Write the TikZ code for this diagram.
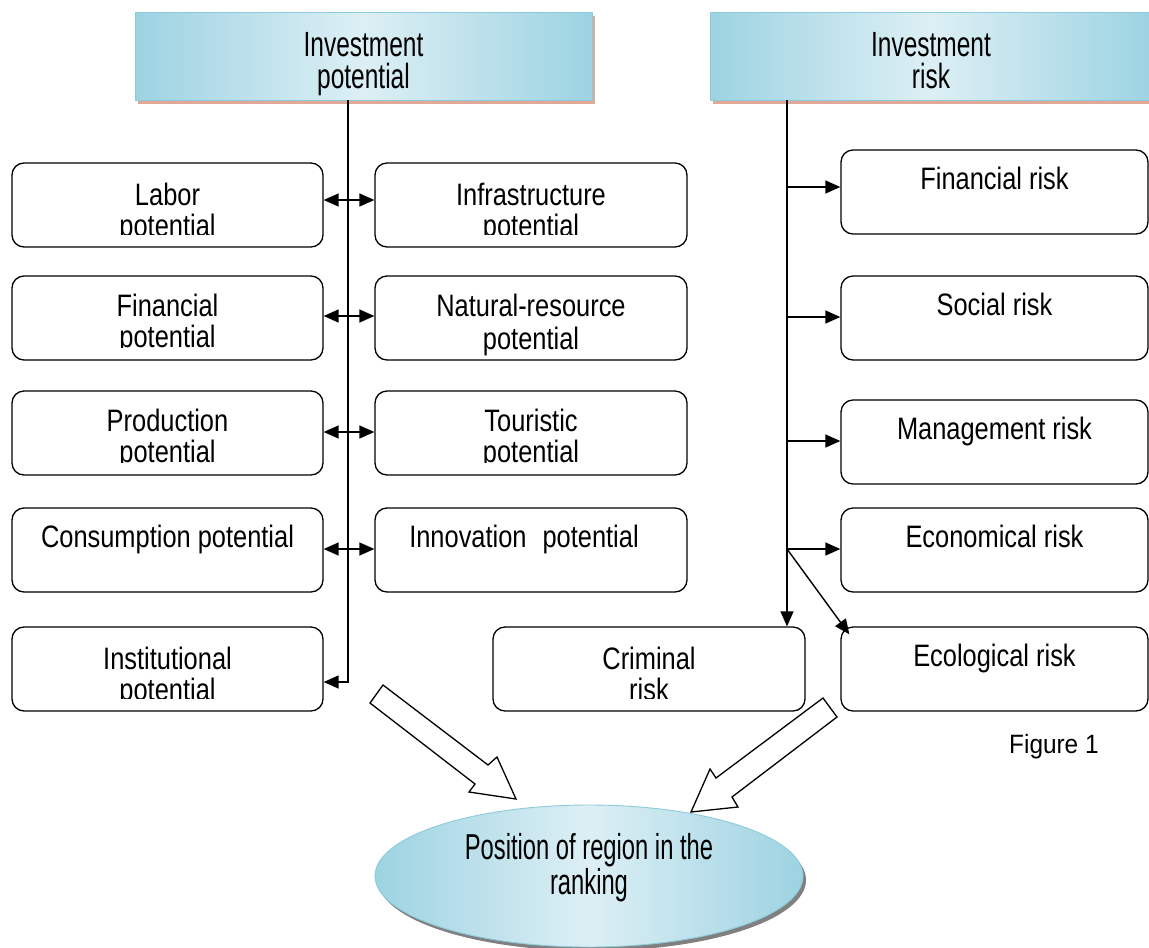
\documentclass[tikz,border=0pt]{standalone}
\usepackage{fontspec}
\setmainfont{Liberation Sans}
\newfontfamily\topfnt[FakeStretch=0.70]{Liberation Sans}
\newfontfamily\boxfnt[FakeStretch=0.82]{Liberation Sans}
\newfontfamily\ellfnt[FakeStretch=0.66]{Liberation Sans}
\newfontfamily\figfnt[FakeStretch=0.92]{Liberation Sans}
\usetikzlibrary{shapes.geometric,arrows.meta,backgrounds}
\definecolor{bdark}{HTML}{9DD3E2}
\definecolor{blight}{HTML}{DDEFF5}
\definecolor{salmon}{HTML}{E1A898}
\definecolor{bborder}{HTML}{8DCBDB}
\newcommand\cliptxt[4]{%
  \begin{scope}
    \clip (#1.north west) rectangle ([yshift=13pt]#1.south east);
    \node[btxt, anchor=base] (#2) at ([yshift=-#3pt]#1.north) {#4};
  \end{scope}}
\begin{document}
\begin{tikzpicture}[x=1pt,y=-1pt,
  topbox/.style={draw=bborder, line width=0.9pt, left color=bdark, right color=bdark, middle color=blight,
    minimum height=88pt, inner sep=0pt},
  rbox/.style={draw, line width=1.3pt, rounded corners=12pt, minimum height=84pt, inner sep=0pt, fill=white},
  btxt/.style={font=\boxfnt\fontsize{31}{31}\selectfont, align=center, inner sep=0pt},
  ttxt/.style={font=\topfnt\fontsize{35}{32}\selectfont, align=center, inner sep=0pt},
  conn/.style={line width=1.4pt, -{Triangle[length=15pt,width=13pt]}},
  dconn/.style={line width=1.4pt, {Triangle[length=15pt,width=13pt]}-{Triangle[length=15pt,width=13pt]}},
  harrow/.style={draw, line width=1.3pt, fill=white, line join=miter}]
\useasboundingbox (0,0) rectangle (1149,948);

% top boxes
\node[topbox, minimum width=457pt] (tl) at (363.5,56) {};
\node[topbox, minimum width=442pt] (tr) at (931,56) {};
\node[ttxt, anchor=base] (tlt) at ([yshift=-77pt]tl.north) {Investment\\potential};
\node[ttxt, anchor=base] (trt) at ([yshift=-77pt]tr.north) {Investment\\risk};

% left column
\node[rbox, minimum width=311pt] (lab) at (167.5,205) {};
\node[rbox, minimum width=311pt] (fip) at (167.5,318) {};
\node[rbox, minimum width=311pt] (pro) at (167.5,433) {};
\node[rbox, minimum width=311pt] (con) at (167.5,550) {};
\node[rbox, minimum width=311pt] (ins) at (167.5,669) {};
% middle column
\node[rbox, minimum width=312pt] (inf) at (531,205) {};
\node[rbox, minimum width=312pt] (nat) at (531,318) {};
\node[rbox, minimum width=312pt] (tou) at (531,433) {};
\node[rbox, minimum width=312pt] (inn) at (531,550) {};
\node[rbox, minimum width=312pt] (cri) at (649,669) {};
% right column
\node[rbox, minimum width=307pt] (fin) at (994.5,192) {};
\node[rbox, minimum width=307pt] (soc) at (994.5,318) {};
\node[rbox, minimum width=307pt] (man) at (994.5,442) {};
\node[rbox, minimum width=307pt] (eco) at (994.5,550) {};
\node[rbox, minimum width=307pt] (ecl) at (994.5,669) {};

% texts (anchor base = baseline of last line)
\cliptxt{lab}{labt}{74}{Labor\\potential}
\cliptxt{inf}{inft}{74}{Infrastructure\\potential}
\cliptxt{fip}{fipt}{72}{Financial\\potential}
\node[btxt, anchor=base] (natt) at ([yshift=-74pt]nat.north) {Natural-resource\\[2pt]potential};
\cliptxt{pro}{prot}{72}{Production\\potential}
\cliptxt{tou}{tout}{72}{Touristic\\potential}
\node[btxt, anchor=base] (cont) at ([yshift=-40pt]con.north) {Consumption potential};
\node[btxt, anchor=base] (innt) at ([xshift=-7pt,yshift=-40pt]inn.north) {Innovation\hspace{16pt}potential};
\cliptxt{ins}{inst}{74}{Institutional\\potential}
\cliptxt{cri}{crit}{74}{Criminal\\risk}
\node[btxt, anchor=base] (fint) at ([yshift=-40pt]fin.north) {Financial risk};
\node[btxt, anchor=base] (soct) at ([yshift=-40pt]soc.north) {Social risk};
\node[btxt, anchor=base] (mant) at ([yshift=-40pt]man.north) {Management risk};
\node[btxt, anchor=base] (ecot) at ([yshift=-40pt]eco.north) {Economical risk};
\node[btxt, anchor=base] (eclt) at ([yshift=-40pt]ecl.north) {Ecological risk};

% left connectors
\coordinate (lv) at ([xshift=-15.5pt]tl.south);
\draw[conn] (lv) |- ([yshift=-13pt]ins.east);
\draw[dconn] ([yshift=5pt]lab.east) -- ([yshift=5pt]inf.west);
\draw[dconn] ([yshift=2pt]fip.east) -- ([yshift=2pt]nat.west);
\draw[dconn] ([yshift=1pt]pro.east) -- ([yshift=1pt]tou.west);
\draw[dconn] ([yshift=1pt]con.east) -- ([yshift=1pt]inn.west);

% right connectors
\coordinate (rv) at ([xshift=-144pt]tr.south);
\draw[conn] (rv) -- ([xshift=138pt]cri.north);
\coordinate (f1) at ([yshift=5pt]fin.west);
\coordinate (f2) at ([yshift=1pt]soc.west);
\coordinate (f3) at ([yshift=1pt]man.west);
\coordinate (f4) at ([yshift=1pt]eco.west);
\draw[conn] (f1 -| rv) -- (f1);
\draw[conn] (f2 -| rv) -- (f2);
\draw[conn] (f3 -| rv) -- (f3);
\draw[conn] (f4 -| rv) -- (f4);
\draw[conn] (f4 -| rv) -- ([xshift=9pt,yshift=-8pt]ecl.north west);

% ellipse
\node[ellipse, draw=bborder, line width=0.9pt, left color=bdark, right color=bdark, middle color=blight,
  minimum width=428pt, minimum height=142pt, inner sep=0pt] (ell) at (589,876) {};
\node[font=\ellfnt\fontsize{36}{28}\selectfont, align=center, inner sep=0pt, anchor=base] (ellt)
  at ([yshift=-18pt]ell.center) {Position of region in the\\ranking};

% shadows and background
\begin{scope}[on background layer]
  \fill[white] (0,0) rectangle (1149,948);
  \fill[salmon] ([xshift=3pt,yshift=-4pt]tl.south west) rectangle ([xshift=3pt,yshift=-4pt]tl.north east);
  \fill[salmon] ([xshift=3pt,yshift=-4pt]tr.south west) rectangle ([xshift=3pt,yshift=-4pt]tr.north east);
  \fill[black!50] ([xshift=3pt,yshift=-4pt]ell.center) ellipse[x radius=214, y radius=71];
\end{scope}

% hollow block arrows
\draw[harrow] (383,685) -- (488,765) -- (497,757) -- (516,799) -- (469,792) -- (475,784) -- (370,703) -- cycle;
\draw[harrow] (823,698) -- (716,778) -- (710,769) -- (691,812) -- (738,807) -- (732,797) -- (837,717) -- cycle;

% figure caption
\node[font=\figfnt\fontsize{26.5}{30}\selectfont, anchor=base west, inner sep=0pt] (fig) at (1009,753) {Figure 1};
\end{tikzpicture}
\end{document}
